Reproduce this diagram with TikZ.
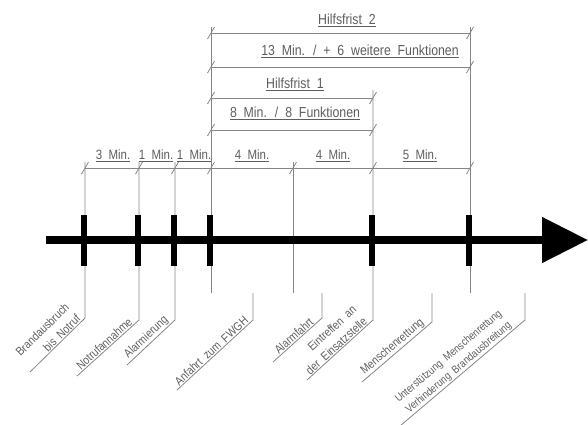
\documentclass[tikz,border=0pt]{standalone}
\usepackage{fontspec}
\setmainfont{Liberation Sans}[FakeStretch=0.85,WordSpace=2]
\usepackage{tikz}
\usetikzlibrary{arrows.meta,calc}
\definecolor{cadline}{HTML}{858585}
\definecolor{cadtext}{HTML}{5E5E5E}
\tikzset{
  timeline/.style={line width=8pt, -{Triangle[length=46pt,width=44pt]}},
  tickbar/.style={line width=6pt},
  dimline/.style={draw=cadline, line width=0.8pt},
  extline/.style={draw=cadline, line width=0.8pt},
  leader/.style={draw=cadline, line width=0.8pt},
  dimlbl/.style={text=cadtext, anchor=south, inner sep=1pt, font=\fontsize{13.5}{16}\selectfont},
  toplbl/.style={dimlbl, font=\fontsize{14.5}{17}\selectfont},
  eventlbl/.style={text=cadtext, sloped, above, inner sep=1pt, align=right, font=\fontsize{12}{16}\selectfont}
}
\newcommand{\dimtick}[1]{\draw[dimline] (#1) ++(-3.5,6) -- ++(7,-12);}

\begin{document}
\begin{tikzpicture}[x=1pt, y=-1pt]
\useasboundingbox (0,0) rectangle (588,424);
% extension lines
\draw[extline] (211,27) -- (211,293);
\draw[extline] (470,27) -- (470,293);
\draw[extline] (293,162) -- (293,293);
% leaders to the event labels
\draw[leader] (85,162) -- (85,318) coordinate (cBrand) -- ++(-55,54) coordinate (eBrand);
\draw[leader] (139,162) -- (139,320) coordinate (cNotruf) -- ++(-62,56) coordinate (eNotruf);
\draw[leader] (175,162) -- (175,320) coordinate (cAlarm) -- ++(-48,45) coordinate (eAlarm);
\draw[leader] (253,293) -- (253,320) coordinate (cAnfahrt) -- ++(-76,70) coordinate (eAnfahrt);
\draw[leader] (322,293) -- (322,318) coordinate (cFahrt) -- ++(-49,44) coordinate (eFahrt);
\draw[leader] (373,90) -- (373,320) coordinate (cEin) -- ++(-66,60) coordinate (eEin);
\draw[leader] (432,293) -- (432,322) coordinate (cMensch) -- ++(-70,60) coordinate (eMensch);
\draw[leader] (525,293) -- (525,320) coordinate (cUnter) -- ++(-125,106) coordinate (eUnter);
\path (eBrand) -- node[eventlbl] (lBrand) {Brandausbruch\\bis Notruf} (cBrand);
\path (eNotruf) -- node[eventlbl] (lNotruf) {Notrufannahme} (cNotruf);
\path (eAlarm) -- node[eventlbl] (lAlarm) {Alarmierung} (cAlarm);
\path (eAnfahrt) -- node[eventlbl] (lAnfahrt) {Anfahrt zum FWGH} (cAnfahrt);
\path (eFahrt) -- node[eventlbl] (lFahrt) {Alarmfahrt} (cFahrt);
\path (eEin) -- node[eventlbl] (lEin) {Eintreffen an\\der Einsatzstelle} (cEin);
\path (eMensch) -- node[eventlbl] (lMensch) {Menschenrettung} (cMensch);
\path (eUnter) -- node[eventlbl, font=\fontsize{11}{15}\selectfont] (lUnter) {Unterstützung Menschenrettung\\Verhinderung Brandausbreitung} (cUnter);
% dimension chains
\draw[dimline] (85,168) -- (470,168);
\draw[dimline] (211,130) -- (373,130);
\draw[dimline] (211,98) -- (373,98);
\draw[dimline] (211,67) -- (470,67);
\draw[dimline] (211,33) -- (470,33);
\dimtick{85,168} \dimtick{139,168} \dimtick{175,168} \dimtick{211,168}
\dimtick{293,168} \dimtick{373,168} \dimtick{470,168}
\dimtick{211,130} \dimtick{373,130} \dimtick{211,98} \dimtick{373,98}
\dimtick{211,67} \dimtick{470,67} \dimtick{211,33} \dimtick{470,33}
\node[dimlbl] (m3) at (113,163) {\underline{3 Min.}};
\node[dimlbl] (m1a) at (156,163) {\underline{1 Min.}};
\node[dimlbl] (m1b) at (194,163) {\underline{1 Min.}};
\node[dimlbl] (m4a) at (252,163) {\underline{4 Min.}};
\node[dimlbl] (m4b) at (333,163) {\underline{4 Min.}};
\node[dimlbl] (m5) at (420,163) {\underline{5 Min.}};
\node[toplbl] (m8) at (295,121) {\underline{8 Min. / 8 Funktionen}};
\node[toplbl] (hf1) at (295,92) {\underline{Hilfsfrist 1}};
\node[toplbl] (m13) at (360,59) {\underline{13 Min. / + 6 weitere Funktionen}};
\node[toplbl] (hf2) at (347,28) {\underline{Hilfsfrist 2}};
% time axis
\draw[timeline] (46,240) -- (588,240);
\draw[tickbar] (84,215) -- (84,266);
\draw[tickbar] (138,215) -- (138,266);
\draw[tickbar] (174,215) -- (174,266);
\draw[tickbar] (210,215) -- (210,266);
\draw[tickbar] (372,215) -- (372,266);
\draw[tickbar] (469,215) -- (469,266);
\end{tikzpicture}
\end{document}
